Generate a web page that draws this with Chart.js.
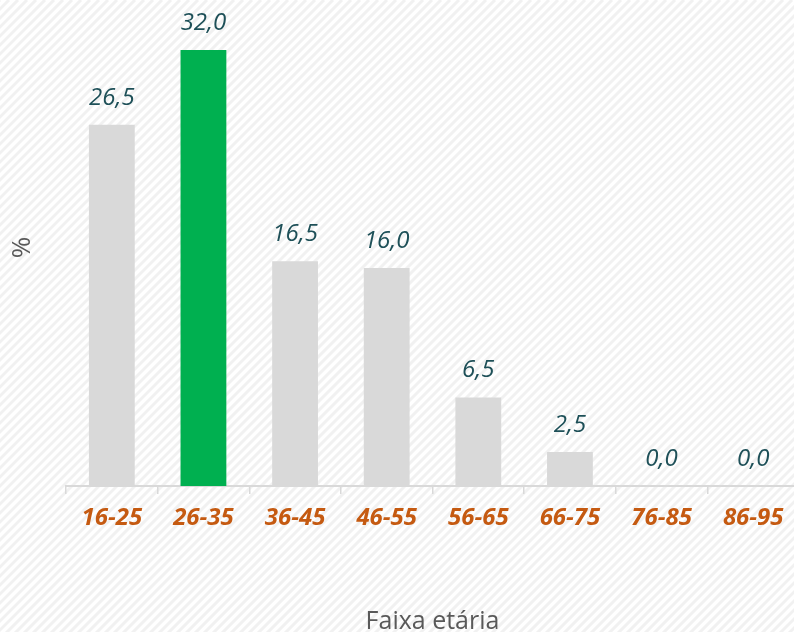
<!DOCTYPE html>
<html>
<head>
<meta charset="utf-8">
<script src="https://cdn.jsdelivr.net/npm/chart.js@4"></script>
<style>
html,body{margin:0;padding:0;overflow:hidden;background:#fff;}
#wrap{width:800px;height:637px;}
</style>
</head>
<body>
<div id="wrap"><canvas id="c" width="800" height="637"></canvas></div>
<script>
const categories = ['16-25','26-35','36-45','46-55','56-65','66-75','76-85','86-95'];
const values = [26.5, 32.0, 16.5, 16.0, 6.5, 2.5, 0.0, 0.0];
const highlightIndex = 1;
const xTitle = 'Faixa etária';
const yTitle = '%';

const barColors = values.map((v,i)=> i===highlightIndex ? '#00b050' : '#d9d9d9');

const stripes = {
  id:'stripes',
  beforeDraw(chart){
    const {ctx,width,height} = chart;
    ctx.save();
    ctx.fillStyle = '#ffffff';
    ctx.fillRect(0,0,width,height);
    ctx.strokeStyle = '#f1f1f1';
    ctx.lineWidth = 3;
    for(let k=-height; k<width+height; k+=9){
      ctx.beginPath();
      ctx.moveTo(k, height);
      ctx.lineTo(k+height, 0);
      ctx.stroke();
    }
    ctx.restore();
  }
};

const valueLabels = {
  id:'valueLabels',
  afterDatasetsDraw(chart){
    const {ctx} = chart;
    const meta = chart.getDatasetMeta(0);
    ctx.save();
    ctx.font = 'italic 24px "Open Sans"';
    ctx.fillStyle = '#1e5058';
    ctx.textAlign = 'center';
    ctx.textBaseline = 'middle';
    meta.data.forEach((el,i)=>{
      const txt = values[i].toFixed(1).replace('.',',');
      ctx.fillText(txt, el.x, el.y - 27);
    });
    ctx.restore();
  }
};

new Chart(document.getElementById('c'), {
  type:'bar',
  data:{
    labels: categories,
    datasets:[{
      data: values,
      backgroundColor: barColors,
      borderWidth:0,
      barPercentage:0.5,
      categoryPercentage:1.0
    }]
  },
  options:{
    responsive:false,
    animation:false,
    layout:{padding:{top:9,left:3,right:1,bottom:0}},
    plugins:{legend:{display:false},tooltip:{enabled:false}},
    scales:{
      x:{
        grid:{display:true,drawOnChartArea:false,drawTicks:true,tickLength:8,color:'#d9d9d9',lineWidth:1.5,offset:true},
        border:{display:true,color:'#d9d9d9',width:2},
        ticks:{color:'#c55a11',padding:10,font:{family:'"Open Sans"',size:24,style:'italic',weight:'bold'},maxRotation:0,autoSkip:false},
        title:{display:true,text:xTitle,color:'#595959',font:{family:'"Open Sans"',size:25},padding:{top:4,bottom:0}},
        afterFit(s){ s.height = 151; }
      },
      y:{
        min:0,max:35,
        ticks:{display:false},
        grid:{display:false},
        border:{display:false},
        title:{display:true,text:yTitle,color:'#595959',font:{family:'"Open Sans"',size:26},padding:{top:4,bottom:4}},
        afterFit(s){ s.width = 63; }
      }
    }
  },
  plugins:[stripes,valueLabels]
});
</script>
</body>
</html>
